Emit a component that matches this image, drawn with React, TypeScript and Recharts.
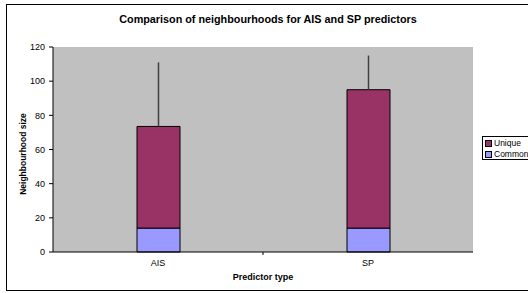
import React from 'react';
import { BarChart, Bar, XAxis, YAxis, CartesianGrid, ErrorBar } from 'recharts';

const categories = ['AIS', 'SP'];
const commonValues = [14, 14];
const uniqueValues = [59.5, 81];
const errorPlus = [37.5, 20];
const yTicks = [0, 20, 40, 60, 80, 100, 120];
const seriesNames = ['Unique', 'Common'];
const seriesColors = ['#993366', '#9999FF'];

const data = categories.map((c, i) => ({
  name: c,
  common: commonValues[i],
  unique: uniqueValues[i],
  err: [0, errorPlus[i]],
}));

const FONT = 'Arial, "Liberation Sans", sans-serif';

const XTick = (props: any) => {
  const { x, y, payload, index } = props;
  return (
    <g>
      <text x={x} y={y + 14} textAnchor="middle" fontSize={9} fontFamily={FONT} fill="#000">
        {payload.value}
      </text>
      {index === 0 && <line x1={x + 105} x2={x + 105} y1={y} y2={y + 3} stroke="#000" strokeWidth={1} />}
    </g>
  );
};

export default function App() {
  return (
    <div style={{ position: 'absolute', left: 0, top: 0, width: 528, height: 293, overflow: 'hidden', background: '#fff' }}>
      <div
        style={{
          position: 'absolute',
          left: 6,
          top: 4,
          width: 540,
          height: 285,
          border: '1.5px solid #000',
        }}
      />
      <div
        style={{
          position: 'absolute',
          left: 0,
          top: 13,
          width: 536,
          textAlign: 'center',
          fontFamily: FONT,
          fontWeight: 'bold',
          fontSize: 10.8,
          lineHeight: '13px',
          color: '#000',
        }}
      >
        Comparison of neighbourhoods for AIS and SP predictors
      </div>
      <div style={{ position: 'absolute', left: 0, top: 0 }}>
        <BarChart
          width={528}
          height={293}
          data={data}
          margin={{ top: 47, right: 55, bottom: 11, left: 0 }}
          barSize={43}
        >
          <CartesianGrid fill="#C0C0C0" horizontal={false} vertical={false} stroke="none" />
          <XAxis
            dataKey="name"
            height={30}
            axisLine={{ stroke: '#000', strokeWidth: 1 }}
            tickLine={false}
            tickSize={0}
            tickMargin={0}
            tick={<XTick />}
            label={() => (
              <text x={263} y={280} textAnchor="middle" fontSize={9} fontWeight="bold" fontFamily={FONT} fill="#000">
                Predictor type
              </text>
            )}
          />
          <YAxis
            width={53}
            domain={[0, 120]}
            ticks={yTicks}
            interval={0}
            axisLine={{ stroke: '#000', strokeWidth: 1 }}
            tickLine={{ stroke: '#000', strokeWidth: 1 }}
            tickSize={4}
            tickMargin={4}
            tick={{ fontSize: 9, fontFamily: FONT, fill: '#000' }}
            label={() => (
              <text
                x={26}
                y={154}
                transform="rotate(-90 26 154)"
                textAnchor="middle"
                fontSize={8.5}
                fontWeight="bold"
                fontFamily={FONT}
                fill="#000"
              >
                Neighbourhood size
              </text>
            )}
          />
          <YAxis
            yAxisId="r"
            orientation="right"
            width={0}
            domain={[0, 120]}
            tick={false}
            tickLine={false}
            axisLine={{ stroke: '#808080', strokeWidth: 2 }}
          />
          <Bar dataKey="common" stackId="a" fill={seriesColors[1]} stroke="#000" strokeWidth={1} isAnimationActive={false} />
          <Bar dataKey="unique" stackId="a" fill={seriesColors[0]} stroke="#000" strokeWidth={1} isAnimationActive={false}>
            <ErrorBar dataKey="err" width={0} stroke="#404040" strokeWidth={1.5} direction="y" />
          </Bar>
        </BarChart>
      </div>
      <div
        style={{
          position: 'absolute',
          left: 482,
          top: 136,
          width: 60,
          height: 24,
          border: '1px solid #000',
          background: '#fff',
          fontFamily: FONT,
          fontSize: 8.5,
          color: '#000',
          padding: '1px 0 0 2px',
          boxSizing: 'border-box',
        }}
      >
        {seriesNames.map((n, i) => (
          <div key={n} style={{ display: 'flex', alignItems: 'center', height: 11, lineHeight: '11px' }}>
            <span
              style={{
                display: 'inline-block',
                width: 5,
                height: 5,
                background: seriesColors[i],
                border: '1px solid #000',
                marginRight: 2,
              }}
            />
            {n}
          </div>
        ))}
      </div>
    </div>
  );
}
